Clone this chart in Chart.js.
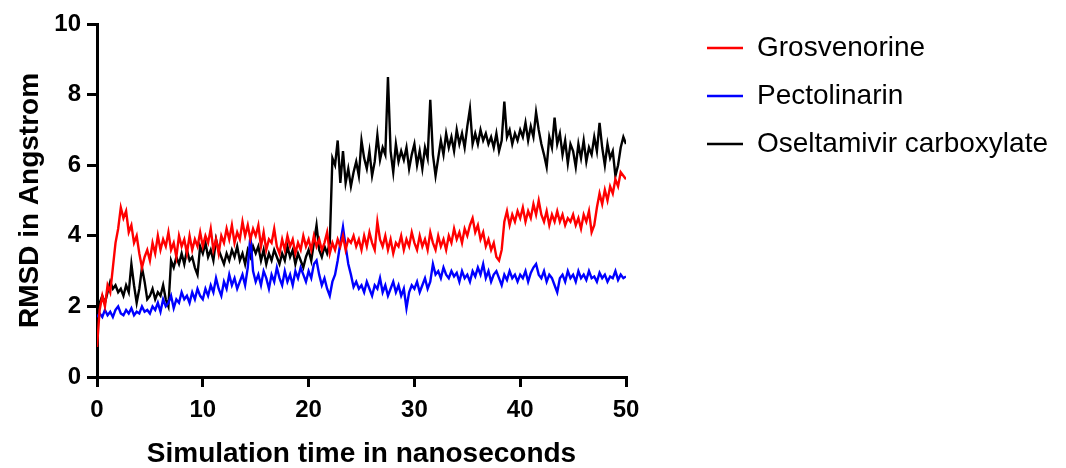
<!DOCTYPE html>
<html>
<head>
<meta charset="utf-8">
<title>RMSD</title>
<script src="https://cdn.jsdelivr.net/npm/chart.js@4.4.1/dist/chart.umd.min.js"></script>
<style>
  html, body { margin: 0; padding: 0; background: #fff; }
  #wrap { width: 1066px; height: 468px; }
</style>
</head>
<body>
<div id="wrap"><canvas id="rmsdChart" width="1066" height="468"></canvas></div>
<script>
const timeStepNs = 0.25;

const grosvenorine = [
  0.85, 1.9, 2.3, 2.0, 2.6, 2.4, 3.1, 3.8, 4.2, 4.8, 4.5, 4.7, 4.1, 4.3, 3.8, 4.0, 3.5, 3.1, 3.4, 3.6,
  3.3, 3.8, 3.5, 4.0, 3.6, 3.9, 3.7, 4.1, 3.6, 3.8, 3.4, 4.0, 3.7, 3.9, 3.5, 4.0, 3.6, 3.9, 3.7, 4.1,
  3.7, 4.0, 3.8, 4.2, 3.6, 3.9, 3.5, 4.0, 3.8, 4.2, 3.9, 4.3, 3.8, 4.1, 3.9, 4.4, 4.0, 4.3, 3.9, 4.2,
  4.0, 4.3, 3.7, 4.1, 3.6, 3.9, 3.8, 4.2, 3.7, 3.5, 3.9, 3.6, 4.0, 3.7, 3.9, 3.5, 3.8, 3.6, 4.0, 3.7,
  3.9, 3.6, 4.0, 3.7, 3.9, 3.6, 3.8, 4.1, 3.5, 3.8, 3.6, 3.9, 3.7, 4.0, 3.6, 3.9, 3.8, 4.0, 3.7, 3.9,
  3.6, 4.0, 3.7, 4.1, 3.8, 3.6, 4.4, 3.9, 3.7, 4.0, 3.6, 3.9, 3.5, 3.8, 3.7, 4.0, 3.6, 3.9, 3.7, 4.1,
  3.8, 3.6, 4.0, 3.7, 3.9, 3.6, 4.1, 3.8, 3.6, 4.0, 3.7, 3.9, 3.6, 4.0, 3.8, 4.2, 3.9, 4.1, 3.8, 4.2,
  4.0, 4.3, 4.5, 4.1, 4.3, 3.9, 4.1, 3.7, 3.9, 3.6, 3.8, 3.4, 3.3, 3.6, 4.4, 4.7, 4.3, 4.6, 4.4, 4.7,
  4.5, 4.8, 4.4, 4.7, 4.5, 4.9, 4.6, 5.0, 4.6, 4.4, 4.7, 4.3, 4.6, 4.4, 4.7, 4.4, 4.6, 4.3, 4.5, 4.4,
  4.6, 4.3, 4.5, 4.2, 4.6, 4.4, 4.7, 4.1, 4.3, 4.8, 5.2, 4.9, 5.3, 5.0, 5.4, 5.2, 5.6, 5.4, 5.8, 5.7,
  5.6
];

const pectolinarin = [
  1.7, 1.8, 1.7, 1.9, 1.75, 1.85, 1.7, 1.9, 2.0, 1.8, 1.75, 1.9, 1.8, 1.95, 1.75, 1.85, 1.8, 2.0, 1.85, 1.9,
  1.8, 2.0, 1.9, 2.1, 1.85, 2.2, 2.0, 2.1, 2.3, 1.95, 2.2, 2.1, 2.4, 2.2, 2.3, 2.1, 2.4, 2.2, 2.5, 2.3,
  2.2, 2.5, 2.3, 2.6, 2.4, 2.8, 2.5, 2.3, 2.7, 2.5, 2.9, 2.6, 2.8, 2.5, 2.7, 2.9, 2.6, 3.1, 4.0, 3.0,
  2.7, 2.9, 2.6, 3.0, 2.8, 2.5, 2.9, 2.7, 3.1, 2.8, 2.6, 3.0, 2.7, 2.9, 2.6, 3.0, 2.8, 3.1, 2.9, 2.7,
  3.0, 2.8, 3.2, 3.3, 2.9, 2.6, 2.8, 2.5, 2.3, 2.7, 2.9, 3.3, 3.8, 4.25, 3.7, 3.2, 2.9, 2.55, 2.7, 2.5,
  2.6, 2.4, 2.7, 2.5, 2.3, 2.6, 2.5, 2.8, 2.4, 2.6, 2.3, 2.5, 2.7, 2.4, 2.6, 2.3, 2.5, 1.95, 2.4, 2.6,
  2.5, 2.7, 2.4, 2.6, 2.8, 2.5, 2.7, 3.2, 2.9, 3.0, 2.8, 3.1, 2.9, 2.8, 3.0, 2.85, 2.95, 2.7, 3.0, 2.8,
  2.9, 2.7, 3.0, 2.85, 3.1, 2.9, 3.2, 2.8, 3.0, 2.7, 2.9, 3.0, 2.8, 2.6, 2.9, 2.75, 3.0, 2.8, 2.9, 2.7,
  2.9, 2.8, 3.0, 2.7, 2.95, 3.1, 3.2, 2.9, 2.8, 3.0, 2.7, 2.9, 2.8, 2.6, 2.4, 2.8, 2.9, 2.7, 3.0, 2.8,
  2.9, 2.7, 3.0, 2.8, 2.9, 2.75, 3.0, 2.8, 2.85, 2.7, 2.95, 2.8, 2.9, 2.7, 2.85, 2.8, 3.0, 2.75, 2.9, 2.8,
  2.85
];

const oseltamivir = [
  1.8, 2.1, 2.3, 2.1, 2.4, 2.7, 2.5, 2.6, 2.4, 2.5, 2.3, 2.6, 2.4, 3.2, 2.6, 2.1, 2.5, 3.1, 2.7, 2.2,
  2.3, 2.5, 2.2, 2.4, 2.3, 2.6, 2.2, 2.0, 3.3, 3.1, 3.4, 3.2, 3.5, 3.2, 3.6, 3.3, 3.4, 3.1, 2.9, 3.7,
  3.5, 3.8, 3.4, 3.6, 3.3, 3.9, 3.6, 3.4, 3.2, 3.5, 3.3, 3.6, 3.4, 3.7, 3.3, 3.5, 3.2, 3.6, 3.4, 3.7,
  3.5, 3.7, 3.3, 3.6, 3.2, 3.5, 3.3, 3.6, 3.4, 3.2, 3.5, 3.3, 3.7, 3.4, 3.6, 3.2, 3.5, 3.3, 3.1, 3.4,
  3.6, 3.3, 3.8, 4.3, 3.6, 3.4, 3.7, 3.5, 3.8, 6.2, 6.0, 6.7, 5.5, 6.4, 5.5, 5.9, 5.4, 5.8, 6.1, 5.7,
  6.7, 6.2, 5.9, 6.4, 5.7, 6.1, 6.85, 6.15, 6.5, 6.3, 8.5, 6.4, 5.8, 6.6, 6.1, 6.4, 6.15, 6.5, 5.9, 6.3,
  6.6, 6.0, 6.4, 5.9, 6.5, 6.2, 7.85, 6.3, 5.7, 6.2, 6.7, 6.3, 6.9, 6.5, 6.8, 6.4, 7.0, 6.6, 6.9, 6.5,
  7.1, 7.6, 6.6, 6.9, 6.6, 7.0, 6.7, 6.9, 6.6, 6.8, 6.5, 6.9, 6.4, 6.7, 7.8, 6.8, 7.0, 6.6, 6.9, 6.7,
  7.0, 6.8, 7.2, 6.7, 7.1, 6.8, 7.5, 7.0, 6.6, 6.3, 5.95, 6.8, 6.5, 7.35, 6.6, 6.9, 6.3, 6.7, 6.05, 6.6,
  6.4, 5.95, 6.6, 6.2, 6.7, 6.1, 6.5, 6.3, 6.8, 6.4, 7.2, 6.5, 6.0, 6.6, 6.2, 6.4, 5.7, 6.0, 6.5, 6.8,
  6.6
];

const seriesLabels = ['Grosvenorine', 'Pectolinarin', 'Oseltamivir carboxylate'];
const seriesColors = ['#ff0000', '#0000ff', '#000000'];
const xTicks = [0, 10, 20, 30, 40, 50];
const yTicks = [0, 2, 4, 6, 8, 10];

const toPoints = (values) => values.map((v, i) => ({ x: i * timeStepNs, y: v }));

// the layout caps a right-hand legend at a fraction of the width; give it the room it needs
const legendWidthPlugin = {
    id: 'legendWidth',
    beforeLayout(chart, args, opts) {
        const legend = chart.legend;
        if (!legend || legend._widthFixed) return;
        const fit = legend.fit.bind(legend);
        legend.fit = () => { fit(); legend.width = opts.width; };
        legend._widthFixed = true;
    }
};

document.addEventListener('DOMContentLoaded', () => {
    Chart.defaults.font.family = "'Liberation Sans', Arial, sans-serif";
    Chart.defaults.color = '#000';

    const axisFont = { size: 24, weight: 'bold' };
    const titleFont = { size: 28, weight: 'bold', lineHeight: 1 };

    const ctx = document.getElementById('rmsdChart');
    new Chart(ctx, {
        type: 'line',
        data: {
            datasets: [grosvenorine, pectolinarin, oseltamivir].map((vals, i) => ({
                label: seriesLabels[i],
                data: toPoints(vals),
                borderColor: seriesColors[i],
                backgroundColor: seriesColors[i],
                borderWidth: 2.4,
                pointRadius: 0,
                tension: 0,
                fill: false
            }))
        },
        plugins: [legendWidthPlugin],
        options: {
            responsive: false,
            animation: false,
            layout: { padding: { top: 14, right: 8, bottom: 0, left: 8 } },
            scales: {
                x: {
                    type: 'linear',
                    position: 'bottom',
                    min: 0,
                    max: 50,
                    afterBuildTicks: (s) => { s.ticks = xTicks.map(v => ({ value: v })); },
                    ticks: { font: axisFont, color: '#000', padding: 9, maxRotation: 0 },
                    grid: { drawOnChartArea: false, drawTicks: true, tickLength: 10, color: '#000', lineWidth: 3 },
                    border: { color: '#000', width: 3 },
                    title: { display: true, text: 'Simulation time in nanoseconds', font: titleFont, color: '#000', padding: { top: 0, bottom: 0 } },
                    afterFit: (s) => { s.height = 91; }
                },
                y: {
                    type: 'linear',
                    position: 'left',
                    min: 0,
                    max: 10,
                    afterBuildTicks: (s) => { s.ticks = yTicks.map(v => ({ value: v })); },
                    ticks: { font: axisFont, color: '#000', padding: 6 },
                    grid: { drawOnChartArea: false, drawTicks: true, tickLength: 10, color: '#000', lineWidth: 3 },
                    border: { color: '#000', width: 3 },
                    title: { display: true, text: 'RMSD in Angstrom', font: titleFont, color: '#000', padding: { top: 8, bottom: 0 } },
                    afterFit: (s) => { s.width = 89; }
                },
                // empty spacer axes: gap above the plot and between plot and legend
                topGap: {
                    type: 'linear', position: 'top', display: true,
                    ticks: { display: false }, grid: { display: false }, border: { display: false },
                    afterFit: (s) => { s.height = 10; }
                },
                legendGap: {
                    type: 'linear', position: 'right', display: true,
                    ticks: { display: false }, grid: { display: false }, border: { display: false },
                    afterFit: (s) => { s.width = 61; }
                }
            },
            plugins: {
                legendWidth: { width: 371 },
                legend: {
                    position: 'right',
                    align: 'start',
                    labels: {
                        usePointStyle: true,
                        pointStyle: 'line',
                        pointStyleWidth: 36,
                        font: { size: 28 },
                        color: '#000',
                        padding: 20
                    }
                },
                tooltip: { enabled: false }
            }
        }
    });
});
</script>
</body>
</html>
